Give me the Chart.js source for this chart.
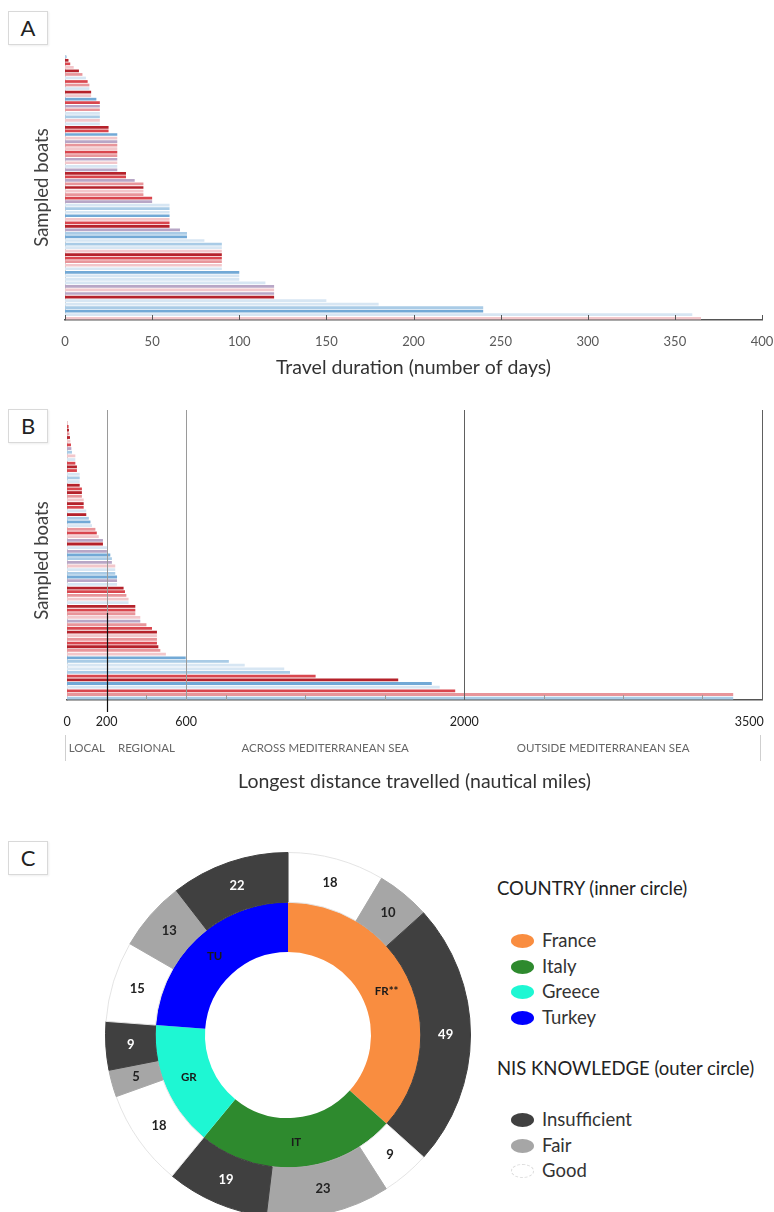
<!DOCTYPE html>
<html>
<head>
<meta charset="utf-8">
<script src="https://cdn.jsdelivr.net/npm/chart.js@4.4.1/dist/chart.umd.min.js"></script>
<style>
  html, body { margin: 0; padding: 0; background: #fff; overflow: hidden; }
  body { width: 774px; height: 1212px; position: relative; font-family: Lato, "Open Sans", sans-serif; }
  canvas { position: absolute; }
  .panel-tag { position: absolute; width: 38px; height: 32px; border: 1px solid #d9d9d9; font-size: 22px; color: #222; text-align: center; line-height: 32px; box-shadow: 1px 1px 2px #eee; }
  .legend { position: absolute; left: 497px; color: #222; }
  .legend h4 { margin: 0; font-weight: normal; font-size: 18.5px; height: 22px; line-height: 22px; }
  .legend .item { position: absolute; left: 14px; font-size: 18.5px; color: #333; white-space: nowrap; line-height: 22px; }
  .legend .dot { display: inline-block; width: 23px; height: 14px; border-radius: 50%; vertical-align: middle; margin-right: 8px; position: relative; top: -1px; }
</style>
</head>
<body>
<div class="panel-tag" style="left:8px;top:11px;">A</div>
<div class="panel-tag" style="left:8px;top:409px;">B</div>
<div class="panel-tag" style="left:8px;top:841px;">C</div>

<canvas id="chartA" width="774" height="345" style="left:0;top:40px;"></canvas>
<canvas id="chartB" width="774" height="395" style="left:0;top:400px;"></canvas>
<canvas id="chartC" width="366" height="366" style="left:105px;top:852px;"></canvas>
<div id="legendC"></div>

<script>
// Panel A: travel duration per sampled boat (days), top to bottom
const travelDays = [1, 2, 3, 5, 8, 10, 12, 13, 14, 14, 15, 15, 18, 20, 20, 20, 20, 20, 20, 20,
  25, 25, 30, 30, 30, 30, 30, 30, 30, 30, 30, 30, 30, 35, 35, 40, 45, 45, 45, 45,
  50, 50, 60, 60, 60, 60, 60, 60, 60, 66, 70, 70, 80, 90, 90, 90, 90, 90, 90, 90,
  90, 100, 100, 100, 115, 120, 120, 120, 120, 150, 180, 240, 240, 360, 365];
const ticksA = [0, 50, 100, 150, 200, 250, 300, 350, 400];

// Panel B: longest distance travelled per sampled boat (nautical miles), top to bottom
const distanceNm = [5, 8, 10, 12, 15, 17, 20, 22, 25, 42, 42, 42, 50, 50, 64, 64, 64, 64,
  75, 75, 75, 84, 84, 84, 97, 97, 110, 118, 126, 143, 150, 160, 181, 181, 201, 201,
  218, 226, 226, 243, 243, 243, 252, 252, 252, 285, 292, 299, 310, 310, 344, 344, 344,
  369, 369, 400, 428, 453, 453, 453, 453, 460, 470, 498, 598, 815, 895, 1094, 1123,
  1252, 1668, 1837, 1877, 1955, 3355, 3355];
const ticksB = [0, 200, 600, 2000, 3500];
const minorTicksB = [400, 800, 1200, 1600, 2400, 2800, 3200];
const zoneBounds = [0, 200, 600, 2000, 3500];
const zoneNames = ['LOCAL', 'REGIONAL', 'ACROSS MEDITERRANEAN SEA', 'OUTSIDE MEDITERRANEAN SEA'];

// Panel C: countries (inner ring) and NIS knowledge (outer ring)
const countryNames = ['France', 'Italy', 'Greece', 'Turkey'];
const countryCodes = ['FR**', 'IT', 'GR', 'TU'];
const countryTotals = [77, 51, 32, 50];
const knowledgeLevels = ['Insufficient', 'Fair', 'Good'];
const goodCounts = [18, 9, 18, 15];
const fairCounts = [10, 23, 5, 13];
const insufficientCounts = [49, 19, 9, 22];

// colours
const countryColors = ['#f98d40', '#2e8a2e', '#1ef7d3', '#0000ff'];
const knowledgeColors = { Insufficient: '#404040', Fair: '#a6a6a6', Good: '#ffffff' };
const barShades = {
  dr: '#b5222b', r: '#d9464e', lr: '#e8959a', p: '#f2c7cb',
  lb: '#a9cbe6', b: '#72a9d6', v: '#b8a6c6', pb: '#d7e6f3'
};
const shadePatternA = ['lb', 'dr', 'r', 'p', 'dr', 'lr', 'pb', 'r', 'lr', 'pb', 'dr', 'p', 'b', 'r',
  'v', 'lr', 'pb', 'lb', 'p', 'pb', 'dr', 'r', 'b', 'p', 'v', 'lr', 'p', 'r', 'lr', 'v', 'p', 'pb', 'v',
  'dr', 'r', 'v', 'lr', 'dr', 'p', 'lr', 'r', 'v', 'pb', 'lb', 'pb', 'b', 'p', 'r', 'dr', 'v', 'lb', 'b',
  'pb', 'lb', 'pb', 'p', 'dr', 'r', 'lr', 'p', 'pb', 'b', 'pb', 'pb', 'pb', 'v', 'p', 'v', 'dr', 'pb',
  'pb', 'lb', 'b', 'pb', 'p'];
const shadePatternB = ['p', 'r', 'dr', 'lr', 'dr', 'p', 'r', 'v', 'lb', 'p', 'pb', 'r', 'dr', 'r', 'pb',
  'lb', 'pb', 'dr', 'r', 'dr', 'lr', 'p', 'dr', 'r', 'pb', 'dr', 'lb', 'b', 'pb', 'lr', 'r', 'p', 'v',
  'dr', 'pb', 'v', 'b', 'lb', 'v', 'p', 'pb', 'lb', 'b', 'v', 'pb', 'dr', 'r', 'lr', 'p', 'pb', 'dr',
  'r', 'lr', 'p', 'v', 'lr', 'r', 'dr', 'p', 'lr', 'r', 'dr', 'lr', 'p', 'b', 'lb', 'pb', 'pb', 'lb',
  'r', 'dr', 'b', 'pb', 'r', 'lr', 'lb'];

const FONT = 'Lato, "Open Sans", sans-serif';

// small tick marks drawn upward from the x axis
function upTicks(values, color) {
  return {
    id: 'upTicks',
    afterDraw(chart) {
      const { ctx, chartArea, scales: { x } } = chart;
      ctx.save();
      ctx.strokeStyle = color;
      ctx.lineWidth = 1;
      values.forEach(v => {
        const px = Math.round(x.getPixelForValue(v)) + 0.5;
        ctx.beginPath();
        ctx.moveTo(px, chartArea.bottom);
        ctx.lineTo(px, chartArea.bottom - 5);
        ctx.stroke();
      });
      ctx.restore();
    }
  };
}

function barScales(opts) {
  return {
    y: {
      type: 'category',
      ticks: { display: false },
      grid: { display: false },
      border: { display: true, color: '#d0d0d0' },
      title: { display: true, text: 'Sampled boats', color: '#404040', font: { family: FONT, size: 18.5 }, padding: { top: 31 } },
      afterFit: s => { s.width = opts.yWidth; }
    },
    x: {
      type: 'linear',
      min: opts.min, max: opts.max,
      afterBuildTicks: s => { s.ticks = opts.ticks.map(v => ({ value: v })); },
      ticks: { color: opts.tickColor, font: { family: FONT, size: opts.tickSize }, padding: opts.tickPad,
        callback: opts.tickText || (v => String(v)), maxRotation: 0, autoSkip: false },
      grid: { display: false },
      border: { display: true, color: '#555', width: 1.5 },
      title: { display: true, text: opts.title, color: '#333', font: { family: FONT, size: 19.5 }, padding: { bottom: opts.titlePad } },
      afterFit: s => { s.height = opts.xHeight; s.paddingRight = 0; s.paddingLeft = 0; }
    }
  };
}

// ---- Panel A ----
new Chart(document.getElementById('chartA'), {
  type: 'bar',
  data: {
    labels: travelDays.map((_, i) => 'Boat ' + (i + 1)),
    datasets: [{
      data: travelDays,
      backgroundColor: travelDays.map((_, i) => barShades[shadePatternA[i % shadePatternA.length]]),
      categoryPercentage: 0.9,
      barPercentage: 0.85
    }]
  },
  options: {
    indexAxis: 'y',
    responsive: false,
    animation: false,
    layout: { padding: { top: 15, right: 12, left: 0, bottom: 0 } },
    plugins: { legend: { display: false }, tooltip: { enabled: false } },
    scales: barScales({ min: 0, max: 400, ticks: ticksA, tickColor: '#595959', tickSize: 13, tickPad: 6,
      title: 'Travel duration (number of days)', titlePad: 6, xHeight: 65, yWidth: 65 })
  },
  plugins: [upTicks(ticksA, '#555')]
});

// ---- Panel B ----
const zonePlugin = {
  id: 'zones',
  afterDatasetsDraw(chart) {
    const { ctx, chartArea, scales: { x } } = chart;
    ctx.save();
    // reference lines at zone limits
    zoneBounds.slice(1).forEach((v, i) => {
      const px = Math.round(x.getPixelForValue(v)) + 0.5;
      ctx.strokeStyle = i < 2 ? '#9a9a9a' : '#606060';
      ctx.lineWidth = 1;
      ctx.beginPath();
      ctx.moveTo(px, chartArea.top - 11);
      ctx.lineTo(px, chartArea.bottom);
      ctx.stroke();
    });
    // darker marker segment at 200 nm
    const p200 = Math.round(x.getPixelForValue(200)) + 0.5;
    ctx.strokeStyle = '#111';
    ctx.lineWidth = 1.2;
    ctx.beginPath();
    ctx.moveTo(p200, chartArea.bottom - 87);
    ctx.lineTo(p200, chartArea.bottom + 12);
    ctx.stroke();
    // zone band below the axis
    const bandY = chartArea.bottom + 48;
    ctx.strokeStyle = '#cfcfcf';
    ctx.lineWidth = 1;
    [chartArea.left - 2, chartArea.right - 2].forEach(px => {
      ctx.beginPath();
      ctx.moveTo(px + 0.5, bandY - 13);
      ctx.lineTo(px + 0.5, bandY + 13);
      ctx.stroke();
    });
    ctx.fillStyle = '#666';
    ctx.font = '11.5px ' + FONT;
    ctx.textAlign = 'center';
    ctx.textBaseline = 'middle';
    zoneNames.forEach((n, i) => {
      const cx = (x.getPixelForValue(zoneBounds[i]) + x.getPixelForValue(zoneBounds[i + 1])) / 2;
      ctx.fillText(n, i === 3 ? cx - 10 : cx, bandY);
    });
    ctx.restore();
  }
};

new Chart(document.getElementById('chartB'), {
  type: 'bar',
  data: {
    labels: distanceNm.map((_, i) => 'Boat ' + (i + 1)),
    datasets: [{
      data: distanceNm,
      backgroundColor: distanceNm.map((_, i) => barShades[shadePatternB[i % shadePatternB.length]]),
      categoryPercentage: 0.9,
      barPercentage: 0.85
    }]
  },
  options: {
    indexAxis: 'y',
    responsive: false,
    animation: false,
    layout: { padding: { top: 21, right: 12, left: 0, bottom: 0 } },
    plugins: { legend: { display: false }, tooltip: { enabled: false } },
    scales: barScales({ min: 0, max: 3500, ticks: ticksB, tickColor: '#222', tickSize: 12.5, tickPad: 6,
      // last label sits left of its line, as in the original figure
      tickText: v => v === 3500 ? '3500        ' : String(v),
      title: 'Longest distance travelled (nautical miles)', titlePad: 2, xHeight: 95, yWidth: 67 })
  },
  plugins: [zonePlugin, upTicks(minorTicksB, '#999')]
});

// ---- Panel C ----
const outerValues = [], outerLevels = [];
countryNames.forEach((_, i) => {
  outerValues.push(goodCounts[i], fairCounts[i], insufficientCounts[i]);
  outerLevels.push('Good', 'Fair', 'Insufficient');
});

const ringLabels = {
  id: 'ringLabels',
  afterDatasetsDraw(chart) {
    const { ctx } = chart;
    ctx.save();
    ctx.textAlign = 'center';
    ctx.textBaseline = 'middle';
    chart.getDatasetMeta(0).data.forEach((arc, i) => {
      const p = arc.tooltipPosition();
      ctx.font = 'bold 13px ' + FONT;
      ctx.fillStyle = outerLevels[i] === 'Insufficient' ? '#ffffff' : '#222';
      ctx.fillText(String(outerValues[i]), p.x, p.y);
    });
    chart.getDatasetMeta(1).data.forEach((arc, i) => {
      const p = arc.tooltipPosition();
      ctx.font = 'bold 11.5px ' + FONT;
      ctx.fillStyle = '#1a1a1a';
      ctx.fillText(countryCodes[i], p.x, p.y);
    });
    ctx.restore();
  }
};

new Chart(document.getElementById('chartC'), {
  type: 'doughnut',
  data: {
    labels: outerLevels,
    datasets: [
      {
        data: outerValues,
        backgroundColor: outerLevels.map(l => knowledgeColors[l]),
        borderColor: outerLevels.map(l => l === 'Good' ? '#e4e4e4' : knowledgeColors[l]),
        borderWidth: 1
      },
      {
        data: countryTotals,
        backgroundColor: countryColors,
        borderWidth: 0
      }
    ]
  },
  options: {
    responsive: false,
    animation: false,
    cutout: '45.5%',
    layout: { padding: 0 },
    plugins: { legend: { display: false }, tooltip: { enabled: false } }
  },
  plugins: [ringLabels]
});

// legend for panel C
const legend = document.getElementById('legendC');
let html = '<div class="legend" style="top:877px;"><h4>COUNTRY (inner circle)</h4>';
countryNames.forEach((n, i) => {
  html += `<div class="item" style="top:${52 + i * 25.5}px;"><span class="dot" style="background:${countryColors[i]}"></span>${n}</div>`;
});
html += '</div><div class="legend" style="top:1057px;"><h4>NIS KNOWLEDGE (outer circle)</h4>';
knowledgeLevels.forEach((n, i) => {
  const c = knowledgeColors[n];
  const border = n === 'Good' ? 'border:1px dashed #ddd;width:21px;height:12px;' : '';
  html += `<div class="item" style="top:${51 + i * 25.5}px;"><span class="dot" style="background:${c};${border}"></span>${n}</div>`;
});
html += '</div>';
legend.innerHTML = html;
</script>
</body>
</html>
